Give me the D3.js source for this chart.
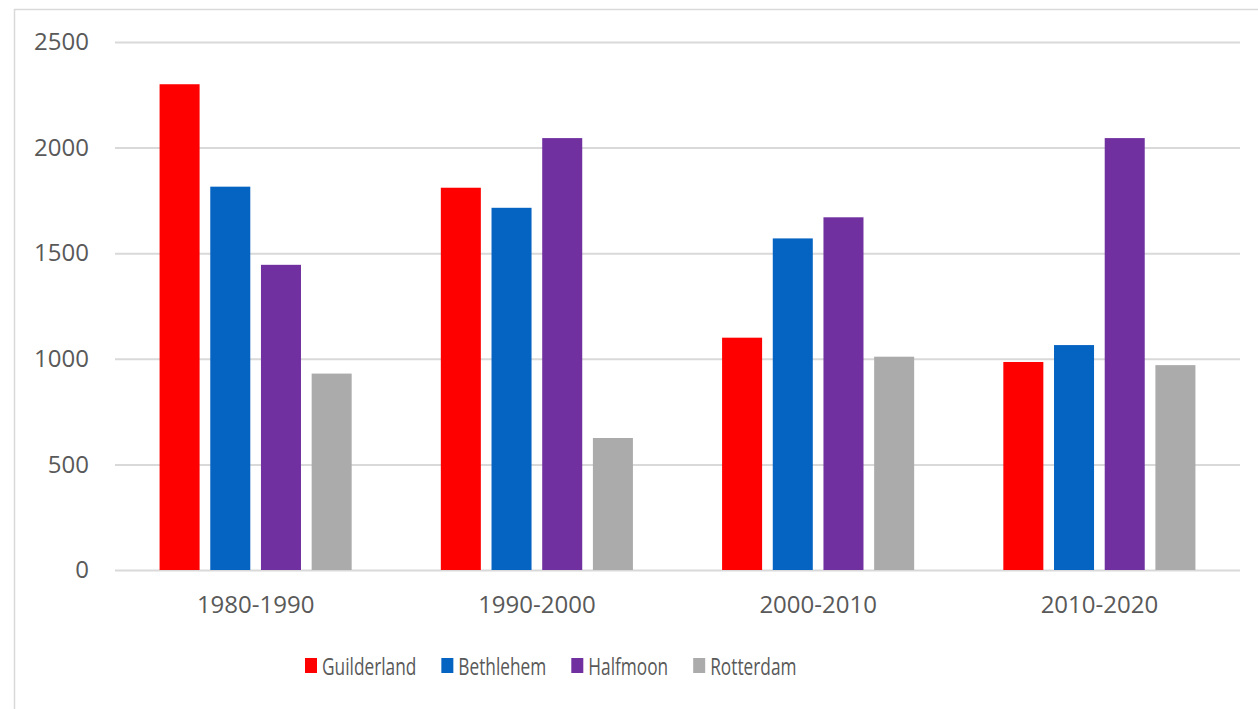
<!DOCTYPE html>
<html>
<head>
<meta charset="utf-8">
<script src="https://cdn.jsdelivr.net/npm/d3@7"></script>
<style>
  body { margin: 0; background: #fff; }
  text { font-family: "Open Sans", sans-serif; fill: #595959; }
</style>
</head>
<body>
<div class="chart"></div>
<script>
var categories = ["1980-1990", "1990-2000", "2000-2010", "2010-2020"];
var seriesNames = ["Guilderland", "Bethlehem", "Halfmoon", "Rotterdam"];
var guilderland = [2300, 1810, 1100, 985];
var bethlehem = [1815, 1715, 1570, 1065];
var halfmoon = [1445, 2045, 1670, 2045];
var rotterdam = [930, 625, 1010, 970];
var yTicks = [0, 500, 1000, 1500, 2000, 2500];
var colors = ["#FF0000", "#0563C1", "#7030A0", "#ABABAB"];

var values = { width: 1258, height: 709, left: 115, right: 1240, top: 42, bottom: 570 };
var seriesData = [guilderland, bethlehem, halfmoon, rotterdam];

var svg = d3.select(".chart").append("svg")
  .attr("width", values.width)
  .attr("height", values.height);

// chart area border (cropped on the right and bottom)
svg.append("rect")
  .attr("x", 14.5).attr("y", 9.5)
  .attr("width", 1300).attr("height", 800)
  .attr("fill", "none")
  .attr("stroke", "#d9d9d9")
  .attr("stroke-width", 1.5);

var y = d3.scaleLinear().domain([0, 2500]).range([values.bottom, values.top]);
var x0 = d3.scaleBand().domain(categories)
  .range([values.left, values.right])
  .paddingInner(0.317).paddingOuter(0.1585);
var x1 = d3.scaleBand().domain(seriesNames)
  .range([0, x0.bandwidth()])
  .paddingInner(0.2105).paddingOuter(0);

// y grid + labels
var yAxis = svg.append("g")
  .attr("transform", "translate(" + values.left + ",0)")
  .call(d3.axisLeft(y).tickValues(yTicks).tickFormat(d3.format("d"))
    .tickSize(-(values.right - values.left)).tickPadding(26));
yAxis.select(".domain").remove();
yAxis.selectAll("line").attr("stroke", "#d9d9d9").attr("stroke-width", 2);
yAxis.selectAll("text").style("font-size", "24px").attr("fill", "#595959");

// bars
categories.forEach(function (c, ci) {
  var g = svg.append("g").attr("transform", "translate(" + x0(c) + ",0)");
  g.selectAll("rect")
    .data(seriesNames.map(function (s, si) { return { s: s, v: seriesData[si][ci], c: colors[si] }; }))
    .enter().append("rect")
    .attr("x", function (d) { return x1(d.s); })
    .attr("y", function (d) { return y(d.v); })
    .attr("width", x1.bandwidth())
    .attr("height", function (d) { return y(0) - y(d.v); })
    .attr("fill", function (d) { return d.c; });
});

// category axis
var xAxis = svg.append("g")
  .attr("transform", "translate(0," + values.bottom + ")")
  .call(d3.axisBottom(x0).tickSize(0));
xAxis.select(".domain").remove();
xAxis.selectAll("text").style("font-size", "24px").attr("fill", "#595959")
  .attr("y", 43).attr("dy", 0);

// legend
var legend = svg.append("g").attr("transform", "translate(305,675)");
var lx = 0;
seriesNames.forEach(function (s, i) {
  legend.append("rect")
    .attr("x", lx).attr("y", -17)
    .attr("width", 12).attr("height", 15)
    .attr("fill", colors[i]);
  var t = legend.append("text")
    .attr("transform", "translate(" + (lx + 17) + ",0) scale(0.72,1)")
    .style("font-size", "24px")
    .text(s);
  lx += 17 + t.node().getComputedTextLength() * 0.72 + 25;
});
</script>
</body>
</html>
